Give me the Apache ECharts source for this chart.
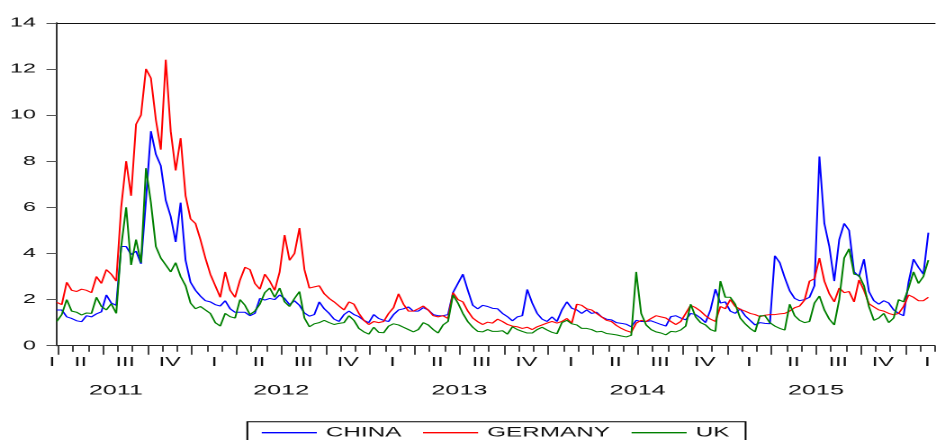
<!DOCTYPE html>
<html>
<head>
<meta charset="utf-8">
<script src="https://cdn.jsdelivr.net/npm/echarts@6/dist/echarts.min.js"></script>
<style>
	html, body { margin: 0; padding: 0; background: #fff; overflow: hidden; }
	/* the reference is horizontally stretched, so draw narrow and stretch */
	#chart { width: 520px; height: 440px; transform: scaleX(1.8); transform-origin: 0 0; }
</style>
</head>
<body>
<div id="chart"></div>
<script>
	// x = months since Jan 2011, one sample every third of a month
	var startMonth = 2.9;
	var stepMonth = 1 / 3;

	var china = [
		1.55, 1.55, 1.25, 1.18, 1.08, 1.04, 1.3, 1.25, 1.38, 1.47,
		2.2, 1.85, 1.75, 4.3, 4.3, 3.95, 4.1, 3.55, 6.3, 9.3,
		8.3, 7.8, 6.3, 5.6, 4.5, 6.2, 3.7, 2.75, 2.4, 2.15,
		1.95, 1.9, 1.78, 1.72, 1.95, 1.6, 1.45, 1.45, 1.45, 1.3,
		1.4, 2.05, 1.98, 2.05, 2.0, 2.2, 2.05, 1.78, 1.95, 1.75,
		1.42, 1.28, 1.35, 1.9, 1.6, 1.4, 1.15, 1.05, 1.35, 1.5,
		1.35, 1.26, 1.1, 1.0, 1.35, 1.18, 1.1, 1.05, 1.35, 1.55,
		1.6, 1.68, 1.5, 1.5, 1.65, 1.55, 1.35, 1.3, 1.3, 1.35,
		2.3, 2.7, 3.1, 2.4, 1.75, 1.6, 1.75, 1.7, 1.62,
		1.6, 1.4, 1.26, 1.08, 1.25, 1.3, 2.44, 1.85, 1.4, 1.15,
		1.05, 1.25, 1.05, 1.55, 1.9, 1.62, 1.55, 1.4, 1.55, 1.4,
		1.45, 1.25, 1.15, 1.12, 1.0, 0.97, 0.93, 0.82, 1.1, 1.05,
		1.05, 1.08, 1.0, 0.92, 0.85, 1.26, 1.3, 1.2, 1.12, 1.4,
		1.35, 1.2, 1.0, 1.55, 2.45, 1.85, 1.9, 1.5, 1.4, 1.6,
		1.3, 1.1, 0.9, 1.0, 0.97, 0.95, 3.9, 3.6, 2.95, 2.38,
		2.05, 1.95, 2.0, 2.1, 2.6, 8.2, 5.3, 4.3, 2.8, 4.6,
		5.3, 5.0, 3.2, 3.0, 3.75, 2.35, 1.95, 1.8, 1.95, 1.85,
		1.55, 1.4, 1.3, 2.75, 3.75, 3.4, 3.1, 4.9
	];
	var germany = [
		1.88, 1.78, 2.75, 2.4, 2.35, 2.45, 2.4, 2.3, 3.0, 2.7,
		3.3, 3.1, 2.8, 6.0, 8.0, 6.5, 9.6, 10.0, 12.0, 11.6,
		9.8, 8.5, 12.4, 9.3, 7.6, 9.0, 6.5, 5.5, 5.3, 4.6,
		3.8, 3.1, 2.6, 2.1, 3.2, 2.4, 2.1, 2.85, 3.4, 3.3,
		2.7, 2.45, 3.1, 2.8, 2.4, 3.2, 4.8, 3.7, 4.0, 5.1,
		3.3, 2.5, 2.55, 2.6, 2.25, 2.05, 1.9, 1.72, 1.55, 1.9,
		1.8, 1.4, 1.1, 0.92, 1.05, 1.0, 1.05, 1.4, 1.65, 2.25,
		1.8, 1.5, 1.5, 1.6, 1.72, 1.55, 1.3, 1.25, 1.3, 1.18,
		2.3, 2.0, 1.9, 1.5, 1.2, 1.04, 0.92, 1.02, 0.98,
		1.15, 1.05, 0.92, 0.85, 0.82, 0.75, 0.8, 0.7, 0.82, 0.9,
		0.98, 1.05, 0.98, 1.05, 1.18, 0.98, 1.8, 1.75, 1.6, 1.55,
		1.4, 1.25, 1.1, 1.05, 0.88, 0.75, 0.65, 0.58, 0.98, 1.1,
		1.05, 1.18, 1.3, 1.25, 1.2, 1.05, 0.92, 1.05, 1.4, 1.75,
		1.65, 1.5, 1.3, 1.15, 1.05, 1.7, 1.6, 2.0, 1.7, 1.58,
		1.5, 1.4, 1.35, 1.26, 1.32, 1.35, 1.35, 1.38, 1.4, 1.5,
		1.65, 1.72, 1.98, 2.8, 2.9, 3.8, 2.8, 2.25, 1.9, 2.5,
		2.3, 2.35, 1.9, 2.85, 2.4, 1.82, 1.68, 1.55, 1.5, 1.4,
		1.34, 1.4, 1.7, 2.2, 2.1, 1.95, 1.95, 2.1
	];
	var uk = [
		1.05, 1.35, 2.0, 1.5, 1.45, 1.33, 1.42, 1.4, 2.1, 1.7,
		1.55, 1.82, 1.4, 4.3, 6.0, 3.5, 4.6, 3.6, 7.7, 6.2,
		4.3, 3.8, 3.5, 3.2, 3.6, 3.0, 2.6, 1.85, 1.6, 1.7,
		1.55, 1.4, 1.0, 0.85, 1.4, 1.26, 1.2, 2.0, 1.75, 1.35,
		1.5, 1.8, 2.3, 2.5, 2.1, 2.5, 1.9, 1.7, 2.05, 2.35,
		1.2, 0.82, 0.95, 1.0, 1.1, 1.0, 0.92, 0.97, 1.0, 1.3,
		1.1, 0.75, 0.6, 0.5, 0.8, 0.58, 0.56, 0.85, 0.95, 0.9,
		0.8, 0.7, 0.6, 0.7, 1.0, 0.9, 0.7, 0.55, 0.9, 1.05,
		2.2, 1.85, 1.4, 1.04, 0.8, 0.62, 0.6, 0.7, 0.62,
		0.62, 0.65, 0.5, 0.82, 0.7, 0.62, 0.55, 0.55, 0.7, 0.8,
		0.68, 0.58, 0.52, 1.0, 1.1, 0.95, 0.9, 0.75, 0.75, 0.7,
		0.6, 0.62, 0.53, 0.5, 0.47, 0.42, 0.38, 0.45, 3.2, 1.4,
		0.9, 0.7, 0.6, 0.55, 0.47, 0.62, 0.6, 0.68, 0.85, 1.8,
		1.25, 1.0, 0.9, 0.7, 0.62, 2.8, 2.1, 2.1, 1.8, 1.2,
		0.95, 0.75, 0.6, 1.3, 1.3, 1.0, 0.85, 0.75, 0.68, 1.8,
		1.3, 1.1, 1.0, 1.05, 1.85, 2.15, 1.55, 1.15, 0.9, 2.0,
		3.8, 4.2, 3.1, 3.05, 2.6, 1.7, 1.1, 1.2, 1.4, 1.0,
		1.2, 2.0, 1.9, 2.5, 3.2, 2.7, 3.0, 3.71
	];

	var seriesNames = ['CHINA', 'GERMANY', 'UK'];
	var quarterNames = ['I', 'II', 'III', 'IV'];
	var yearNames = ['2011', '2012', '2013', '2014', '2015'];

	var font = 'Liberation Sans, Arial, sans-serif';
	var xMin = 2.88, xMax = 62;

	function toPairs(vals) {
		return vals.map(function(v, i) {
			return [startMonth + i * stepMonth, v];
		});
	}

	var monthTicks = [], quarterTicks = [], quarterMids = [];
	for (var m = 3; m <= 62; m++) {
		monthTicks.push(m);
		if (m % 3 === 0) quarterTicks.push(m);
		if (m % 3 === 0) quarterMids.push(m + 1.5);
	}
	var yearMids = [6.88, 18, 30, 42, 54]; // 2011 is centred on its visible part

	var chart = echarts.init(document.getElementById('chart'), null, { devicePixelRatio: 2 });

	var option = {
		animation: false,
		backgroundColor: '#fff',
		color: ['#0000ff', '#ff0000', '#008000'],
		grid: { left: 31.4, top: 22.8, width: 492.7, height: 322.9 },
		legend: {
			data: seriesNames,
			left: 137.4,
			top: 421.7,
			padding: [4, 9, 4, 8],
			borderColor: '#000',
			borderWidth: 1,
			icon: 'rect',
			itemWidth: 30.6,
			itemHeight: 1.4,
			itemGap: 12,
			textStyle: { fontFamily: font, fontSize: 13.5, color: '#111' }
		},
		xAxis: [{
			type: 'value', position: 'bottom', min: xMin, max: xMax,
			splitLine: { show: false },
			axisLine: { show: true, onZero: false, lineStyle: { color: '#222', width: 1 } },
			axisTick: { show: true, customValues: monthTicks, length: 6, lineStyle: { color: '#444' } },
			axisLabel: {
				customValues: quarterMids, margin: 10,
				fontFamily: font, fontSize: 13, color: '#111',
				formatter: function(v) {
					return quarterNames[Math.round((v - 1.5) / 3) % 4];
				}
			}
		}, {
			type: 'value', position: 'bottom', min: xMin, max: xMax,
			splitLine: { show: false },
			axisLine: { show: false, onZero: false },
			axisTick: { show: true, customValues: quarterTicks, length: 9, lineStyle: { color: '#444' } },
			axisLabel: { show: false }
		}, {
			type: 'value', position: 'bottom', min: xMin, max: xMax,
			splitLine: { show: false },
			axisLine: { show: false, onZero: false },
			axisTick: { show: false },
			axisLabel: {
				customValues: yearMids, margin: 38,
				fontFamily: font, fontSize: 14, color: '#111',
				formatter: function(v) {
					return yearNames[Math.floor(v / 12)];
				}
			}
		}, {
			type: 'value', position: 'top', min: xMin, max: xMax,
			splitLine: { show: false },
			axisLine: { show: true, onZero: false, lineStyle: { color: '#111', width: 1 } },
			axisTick: { show: false },
			axisLabel: { show: false }
		}],
		yAxis: {
			type: 'value', min: 0, max: 14, interval: 2,
			splitLine: { show: false },
			axisLine: { show: true, onZero: false, lineStyle: { color: '#333', width: 1 } },
			axisTick: { show: true, length: 5.6, lineStyle: { color: '#555' } },
			axisLabel: { margin: 11.4, fontFamily: font, fontSize: 13, color: '#111' }
		},
		graphic: [{
			// Q1 2011 label sits left of the plot
			type: 'text', x: 28.9, y: 362.5, silent: true,
			style: { text: quarterNames[0], font: '13px ' + font, fill: '#111', textAlign: 'center', textVerticalAlign: 'middle' }
		}],
		series: [china, germany, uk].map(function(vals, k) {
			return {
				name: seriesNames[k],
				type: 'line',
				symbol: 'none',
				xAxisIndex: 0,
				lineStyle: { width: 1 },
				data: toPairs(vals)
			};
		})
	};

	chart.setOption(option);
</script>
</body>
</html>
